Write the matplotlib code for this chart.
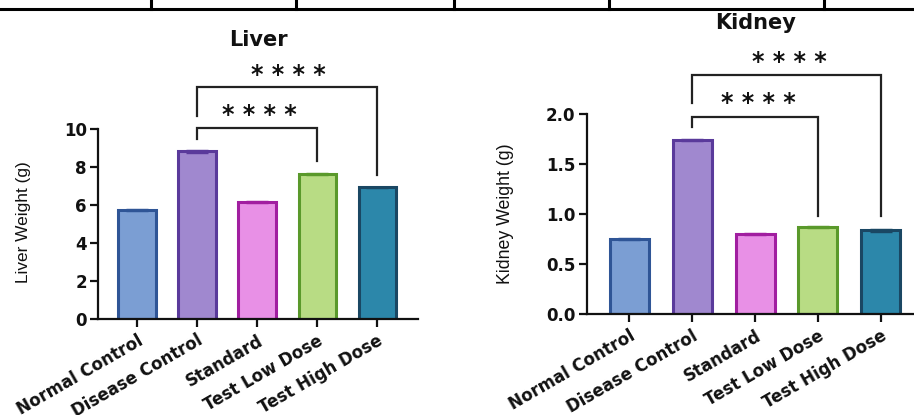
import matplotlib
matplotlib.use("Agg")
import matplotlib.pyplot as plt
from matplotlib.lines import Line2D

categories = ["Normal Control", "Disease Control", "Standard", "Test Low Dose", "Test High Dose"]
liver_values = [5.72, 8.82, 6.18, 7.62, 6.93]
liver_err = [0.05, 0.06, 0.05, 0.05, 0.04]
kidney_values = [0.755, 1.74, 0.80, 0.875, 0.84]
kidney_err = [0.01, 0.01, 0.01, 0.01, 0.012]
liver_yticks = [0, 2, 4, 6, 8, 10]
kidney_yticks = [0.0, 0.5, 1.0, 1.5, 2.0]
kidney_yticklabels = ["0.0", "0.5", "1.0", "1.5", "2.0"]

fill_colors = ["#7B9ED3", "#A088CF", "#E890E6", "#B8DC84", "#2C87AA"]
edge_colors = ["#2F5596", "#5A3A9B", "#A11EA0", "#5A992B", "#1A4763"]

# significance brackets: (x_left, x_right, y_bar, y_left_leg, y_right_leg, star_x, star_y)
liver_brackets = [
    (1, 3, 10.07, 9.5, 8.3, 2.03, 10.75),
    (1, 4, 12.2, 10.7, 7.6, 2.52, 12.85),
]
kidney_brackets = [
    (1, 3, 1.976, 1.87, 0.98, 2.05, 2.11),
    (1, 4, 2.39, 2.11, 0.98, 2.54, 2.52),
]

W, H = 914, 415
fig = plt.figure(figsize=(9.14, 4.15), dpi=100)

text_color = "#111111"
tick_font = dict(family=["DejaVu Sans"], weight="bold", size=12, color=text_color)


def style_axes(ax):
    for s in ["top", "right"]:
        ax.spines[s].set_visible(False)
    for s in ["left", "bottom"]:
        ax.spines[s].set_linewidth(1.6)
        ax.spines[s].set_color("#111111")
    ax.tick_params(axis="y", length=6, width=1.6, color="#111111", pad=2)
    ax.tick_params(axis="x", length=6, width=1.6, color="#111111", pad=3)


def draw_panel(ax, values, errs, yticks, yticklabels, ylim, xlim, brackets):
    x = list(range(len(categories)))
    ax.bar(x, values, width=0.62, color=fill_colors, edgecolor=edge_colors,
           linewidth=2.2, zorder=2)
    for xi, v, e, ec in zip(x, values, errs, edge_colors):
        ax.errorbar([xi], [v], yerr=[e], fmt="none", ecolor=ec,
                    elinewidth=1.0, capsize=8, capthick=1.0, zorder=3)
    ax.set_ylim(*ylim)
    ax.set_xlim(*xlim)
    ax.set_yticks(yticks)
    ax.set_yticklabels(yticklabels, fontdict=tick_font)
    ax.set_xticks(x)
    ax.set_xticklabels(categories, rotation=30, ha="right", rotation_mode="anchor",
                       fontdict=tick_font)
    style_axes(ax)
    for (xl, xr, yb, yl, yr, sx, sy) in brackets:
        ax.plot([xl, xl, xr, xr], [yl, yb, yb, yr], color="#222222", lw=1.6,
                clip_on=False, solid_joinstyle="miter", zorder=4)
        ax.text(sx, sy, "* * * *", ha="center", va="center", fontsize=17,
                fontweight="bold", family=["DejaVu Sans"], color=text_color,
                clip_on=False)


ax1 = fig.add_axes([98 / W, (H - 319) / H, 320 / W, 190 / H])
draw_panel(ax1, liver_values, liver_err, liver_yticks, [str(v) for v in liver_yticks],
           (0, 10), (-0.65, 4.68), liver_brackets)

ax2 = fig.add_axes([586.7 / W, (H - 314.3) / H, (W - 586.7) / W, 200 / H])
draw_panel(ax2, kidney_values, kidney_err, kidney_yticks, kidney_yticklabels,
           (0, 2.0), (-0.68, 4.53), kidney_brackets)

# titles
fig.text(258 / W, 1 - 40 / H, "Liver", ha="center", va="center", fontsize=15,
         fontweight="bold", family=["DejaVu Sans"], color=text_color)
fig.text(756 / W, 1 - 23 / H, "Kidney", ha="center", va="center", fontsize=15,
         fontweight="bold", family=["DejaVu Sans"], color=text_color)

# y labels
fig.text(24 / W, 1 - 222.5 / H, "Liver Weight (g)", rotation=90, ha="center", va="center",
         fontsize=12.4, family=["Liberation Sans", "DejaVu Sans"], color=text_color)
fig.text(506 / W, 1 - 213.5 / H, "Kidney Weight (g)", rotation=90, ha="center", va="center",
         fontsize=12.8, family=["Liberation Sans", "DejaVu Sans"], color=text_color)

# table border at the top of the image
border_y = 9
border_x = [151, 296, 454, 609, 824]
fig.add_artist(Line2D([0, 1], [1 - border_y / H, 1 - border_y / H],
                      transform=fig.transFigure, color="black", lw=2.2))
for bx in border_x:
    fig.add_artist(Line2D([bx / W, bx / W], [1, 1 - border_y / H],
                          transform=fig.transFigure, color="black", lw=2.2))

fig.savefig("out.png", dpi=100)
